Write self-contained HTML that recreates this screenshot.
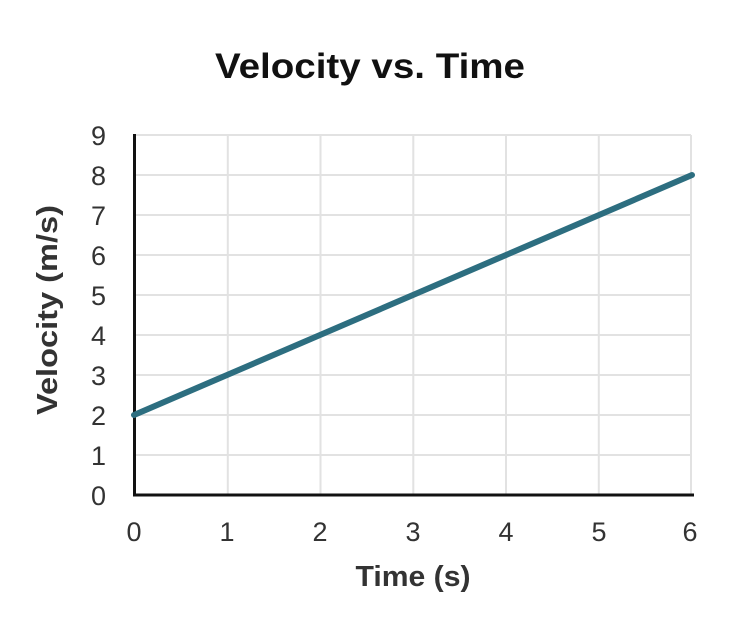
<!DOCTYPE html>
<html><head><style>
body{margin:0;background:#fff;}
svg text{font-family:"Liberation Sans",Arial,sans-serif;}
</style></head><body>
<svg width="746" height="626" xmlns="http://www.w3.org/2000/svg">
<rect width="746" height="626" fill="#fff"/>
<text x="215" y="78" font-size="35" font-weight="bold" textLength="310" lengthAdjust="spacingAndGlyphs" fill="#111">Velocity vs. Time</text>
<g stroke="#e2e2e2" stroke-width="2">
<line x1="135" y1="135" x2="691" y2="135"/>
<line x1="135" y1="175" x2="691" y2="175"/>
<line x1="135" y1="215" x2="691" y2="215"/>
<line x1="135" y1="255" x2="691" y2="255"/>
<line x1="135" y1="295" x2="691" y2="295"/>
<line x1="135" y1="335" x2="691" y2="335"/>
<line x1="135" y1="375" x2="691" y2="375"/>
<line x1="135" y1="415" x2="691" y2="415"/>
<line x1="135" y1="455" x2="691" y2="455"/>
<line x1="227.8" y1="135" x2="227.8" y2="495"/>
<line x1="320.5" y1="135" x2="320.5" y2="495"/>
<line x1="413.3" y1="135" x2="413.3" y2="495"/>
<line x1="506" y1="135" x2="506" y2="495"/>
<line x1="598.8" y1="135" x2="598.8" y2="495"/>
<line x1="691" y1="135" x2="691" y2="495"/>
</g>
<line x1="134.5" y1="134" x2="134.5" y2="496" stroke="#111" stroke-width="3"/>
<line x1="133" y1="495" x2="694" y2="495" stroke="#111" stroke-width="3"/>
<line x1="134" y1="415" x2="692" y2="175" stroke="#2d6e80" stroke-width="6" stroke-linecap="round"/>
<g font-size="27" fill="#333" text-anchor="end">
<text x="106" y="145">9</text><text x="106" y="185">8</text><text x="106" y="225">7</text>
<text x="106" y="265">6</text><text x="106" y="305">5</text><text x="106" y="345">4</text>
<text x="106" y="385">3</text><text x="106" y="425">2</text><text x="106" y="465">1</text>
<text x="106" y="505">0</text>
</g>
<g font-size="27" fill="#333" text-anchor="middle">
<text x="134" y="541">0</text><text x="227" y="541">1</text><text x="320" y="541">2</text>
<text x="413" y="541">3</text><text x="506" y="541">4</text><text x="599" y="541">5</text>
<text x="690" y="541">6</text>
</g>
<text x="413" y="586" font-size="29" font-weight="bold" text-anchor="middle" textLength="115" lengthAdjust="spacingAndGlyphs" fill="#333">Time (s)</text>
<text transform="translate(57,310) rotate(-90)" font-size="29" font-weight="bold" text-anchor="middle" textLength="210" lengthAdjust="spacingAndGlyphs" fill="#333">Velocity (m/s)</text>
</svg>
</body></html>
